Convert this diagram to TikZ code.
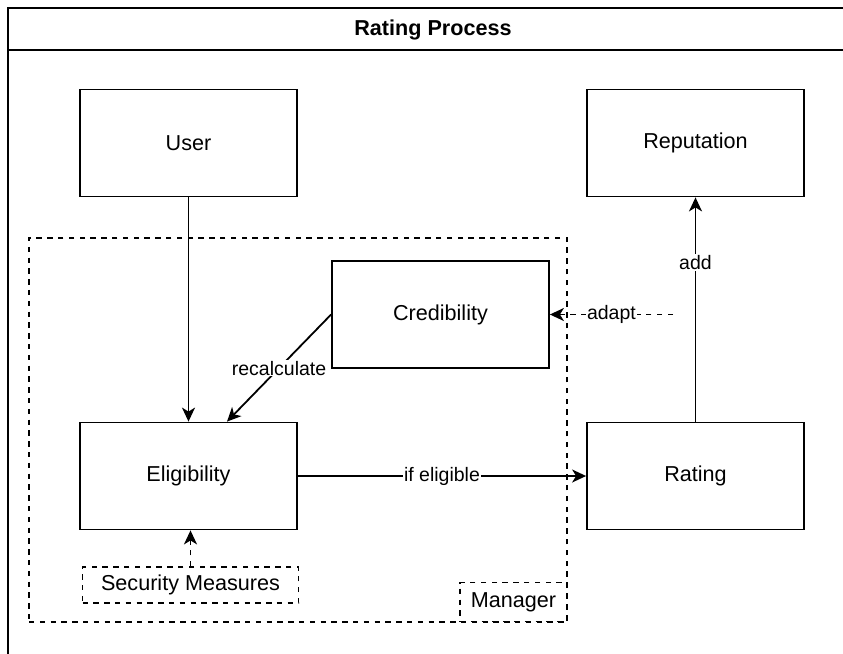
\documentclass[tikz,border=0pt]{standalone}
\usepackage{fontspec}
\setmainfont{Liberation Sans}
\usetikzlibrary{arrows.meta}
\begin{document}
\begin{tikzpicture}[x=1pt,y=-1pt,
  stroke/.style={line width=1.8pt},
  dash5/.style={dash pattern=on 5.4pt off 5.4pt},
  box/.style={stroke, draw, minimum width=217pt, minimum height=107pt, inner sep=0pt,
    font=\fontsize{21.6}{26}\selectfont},
  dashbox/.style={stroke, draw, dash5, inner sep=0pt, font=\fontsize{21.6}{26}\selectfont},
  arr/.style={stroke, -{Stealth[length=14pt,width=13pt,inset=4pt]}},
  lbl/.style={fill=white, inner sep=1pt, font=\fontsize{19.5}{23}\selectfont},
]
\useasboundingbox (0,0) rectangle (843,653);
\clip (0,0) rectangle (843,653);
\fill[white] (0,0) rectangle (843,653);

% outer pool frame with title band
\draw[stroke] (8,700) |- (900,8);
\draw[stroke] (8,50) -- (900,50);
\node[font=\bfseries\fontsize{21.6}{26}\selectfont] (title) at (433,30) {Rating Process};

% manager container and its label
\node[dashbox, minimum width=538pt, minimum height=384pt] (manager) at (298,430) {};
\node[dashbox, minimum width=107pt, minimum height=39pt] (mgrlabel) at (513.5,602) {Manager};

% main boxes
\node[box] (user) at (188.5,143) {User};
\node[box] (rep) at (695.5,143) {Reputation};
\node[box] (cred) at (440.5,314.5) {Credibility};
\node[box] (elig) at (188.5,476) {Eligibility};
\node[box] (rating) at (695.5,476) {Rating};
\node[dashbox, minimum width=216pt, minimum height=36pt] (sec) at (190.5,585) {Security Measures};

% connectors
\draw[arr] (user) -- (elig);
\draw[arr] (cred.west) -- node[lbl] {recalculate} ([xshift=38.5pt]elig.north);
\draw[arr] (elig) -- node[lbl] {if eligible} (rating);
\draw[arr] (rating) -- node[lbl, pos=0.71] {add} (rep);
\coordinate (adaptsrc) at (673,314.5);
\draw[arr, dash5] (adaptsrc) -- node[lbl] {adapt} (cred.east);
\draw[arr, dash5] (sec.north) -- (sec.north |- elig.south);
\end{tikzpicture}
\end{document}
